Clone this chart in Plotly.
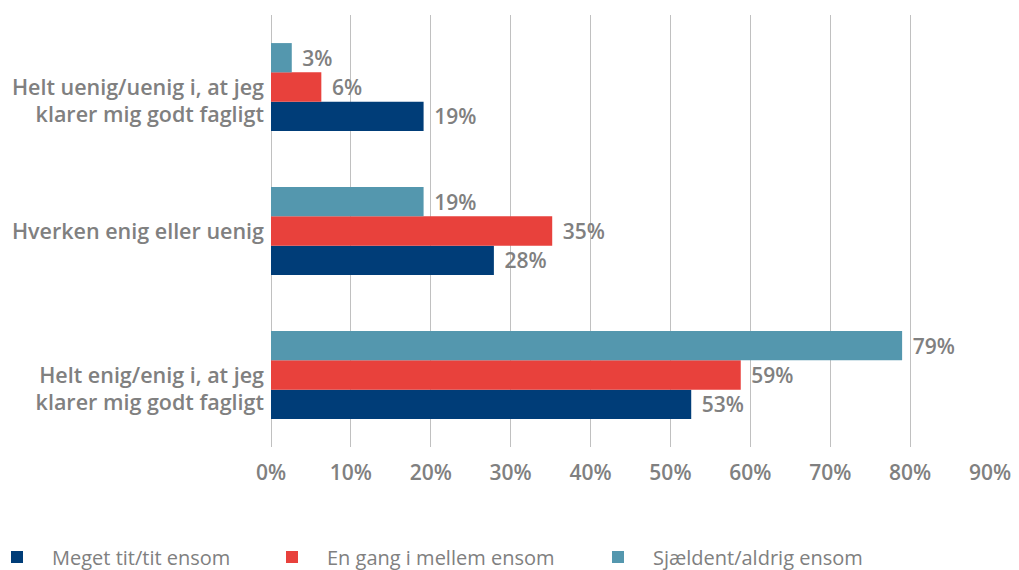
import plotly.graph_objects as go

categories = [
    "<br>Helt enig/enig i, at jeg<br>klarer mig godt fagligt",
    "Hverken enig eller uenig",
    "<br>Helt uenig/uenig i, at jeg<br>klarer mig godt fagligt",
]
series_names = ["Meget tit/tit ensom", "En gang i mellem ensom", "Sjældent/aldrig ensom"]
meget_tit = [52.6, 27.9, 19.1]
en_gang = [58.8, 35.2, 6.3]
sjaeldent = [79.0, 19.1, 2.6]
colors = ["#003d78", "#e8413c", "#5497ae"]
tick_vals = [0, 10, 20, 30, 40, 50, 60, 70, 80, 90]
tick_text = ["0%", "10%", "20%", "30%", "40%", "50%", "60%", "70%", "80%", "90%"]

FONT = "Open Sans"
GRAY = "#808080"
W, H = 1011, 562
ML, MR, MT, MB = 263, 29, 7, 123
PW = W - ML - MR

legend_ids = ["legend", "legend2", "legend3"]
legend_px = [-26, 249, 575]

fig = go.Figure()
for name, vals, col, lg in zip(series_names, [meget_tit, en_gang, sjaeldent], colors, legend_ids):
    fig.add_trace(go.Bar(
        y=categories, x=vals, name=name, orientation="h",
        marker=dict(color=col, line=dict(width=0)),
        texttemplate=" \u200a%{x:.0f}%", textposition="outside",
        textfont=dict(family=FONT, size=21, color=GRAY, weight=600),
        constraintext="none", cliponaxis=False, legend=lg,
    ))

legend_common = dict(
    orientation="h", yanchor="middle", y=0.023, xanchor="left",
    xref="paper", yref="container", itemwidth=60,
    font=dict(family=FONT, size=20, color=GRAY),
    bgcolor="rgba(0,0,0,0)",
)

fig.update_layout(
    width=W, height=H,
    margin=dict(l=ML, r=MR, t=MT, b=MB, autoexpand=False),
    paper_bgcolor="white", plot_bgcolor="white",
    barmode="group", bargap=0.39, bargroupgap=0,
    font=dict(family=FONT, color=GRAY),
    xaxis=dict(
        range=[0, 90], tickvals=tick_vals, ticktext=tick_text,
        showgrid=True, gridcolor="#c0c0c0", gridwidth=1,
        zeroline=True, zerolinecolor="#c0c0c0", zerolinewidth=1,
        tickfont=dict(family=FONT, size=21, color=GRAY, weight=600),
        ticks="", fixedrange=True, automargin=False, ticklabelstandoff=11,
    ),
    yaxis=dict(
        showgrid=False, ticks="", ticklabelstandoff=6, automargin=False,
        tickfont=dict(family=FONT, size=21.5, color=GRAY, weight=600),
    ),
    legend=dict(x=(legend_px[0] - ML) / PW, **legend_common),
    legend2=dict(x=(legend_px[1] - ML) / PW, **legend_common),
    legend3=dict(x=(legend_px[2] - ML) / PW, **legend_common),
    showlegend=True,
)

fig.write_html("out.html")
